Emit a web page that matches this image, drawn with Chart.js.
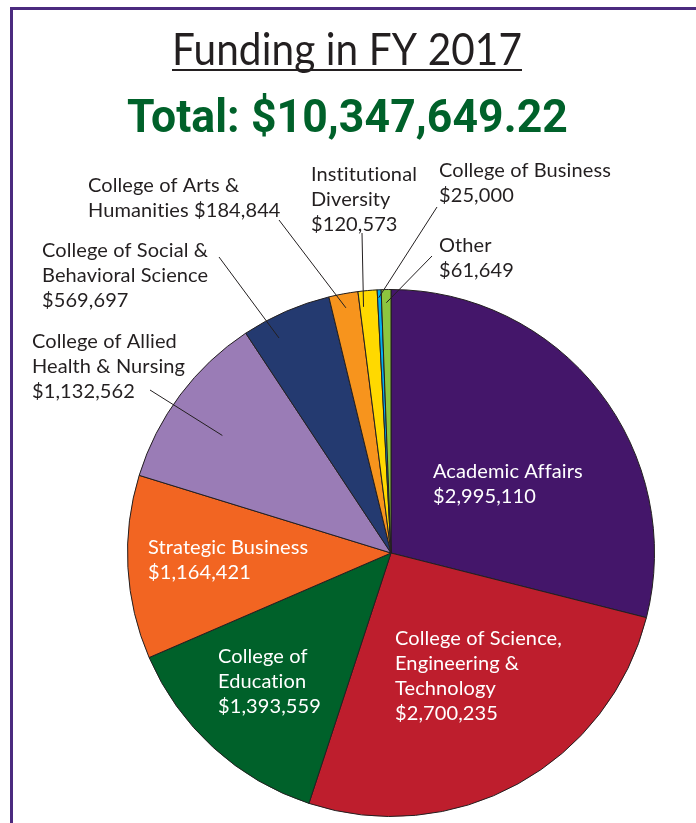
<!DOCTYPE html>
<html><head><meta charset="utf-8">
<script src="https://cdn.jsdelivr.net/npm/chart.js@4.4.1/dist/chart.umd.min.js"></script>
<style>
html,body{margin:0;padding:0;background:#fff;width:696px;height:823px;overflow:hidden;}
#frame{position:absolute;left:10px;top:7px;width:720px;height:900px;border-left:3px solid #4b2a7f;border-top:3px solid #4b2a7f;}
#c{position:absolute;left:0;top:0;}
</style></head><body>
<div id="frame"></div>
<canvas id="c" width="696" height="823"></canvas>
<script>
// ---- data ----
const categories = [
  'Academic Affairs',
  'College of Science,\nEngineering &\nTechnology',
  'College of\nEducation',
  'Strategic Business',
  'College of Allied\nHealth & Nursing',
  'College of Social &\nBehavioral Science',
  'College of Arts &\nHumanities',
  'Institutional\nDiversity',
  'College of Business',
  'Other'
];
const values = [2995110, 2700235, 1393559, 1164421, 1132562, 569697, 184844, 120573, 25000, 61649];
const colors = ['#44166a', '#be1e2d', '#00612a', '#f26522', '#9a7cb6', '#243a70', '#f7941d', '#ffd900', '#00aeef', '#8dc63f'];
const titleText = 'Funding in FY 2017';
const totalText = 'Total: $10,347,649.22';

// ---- label layout (positions of texts, leader lines) ----
const labelLayout = [
  {x:433, y:478, color:'#fff'},
  {x:395, y:645, color:'#fff'},
  {x:218, y:663, color:'#fff'},
  {x:148, y:554, color:'#fff'},
  {x:32,  y:348, color:'#231f20', from:[150,390], r:0.78, t:0.45},
  {x:42,  y:257, color:'#231f20', from:[219,257], r:0.92, t:0.3},
  {x:88,  y:192, color:'#231f20', from:[279,220], r:0.946, t:0.5, inline:true},
  {x:311, y:181, color:'#231f20', from:[362,233], r:0.94, t:0.2},
  {x:439, y:177, color:'#231f20', from:[437,207], r:0.97, t:0.3},
  {x:439, y:252, color:'#231f20', from:[432,256], r:0.95, t:0.5}
];

function fmt(v){ return '$' + v.toLocaleString('en-US'); }

const labelPlugin = {
  id: 'labelPlugin',
  afterDraw(chart){
    const ctx = chart.ctx;
    const meta = chart.getDatasetMeta(0);
    ctx.save();
    try { ctx.letterSpacing = '0.1px'; } catch(e) {}
    // title
    ctx.fillStyle = '#231f20';
    ctx.font = '400 44px Lato';
    ctx.textBaseline = 'alphabetic';
    ctx.textAlign = 'left';
    let w = ctx.measureText(titleText).width;
    ctx.save(); ctx.translate(172, 65); ctx.scale(350 / w, 1); ctx.fillText(titleText, 0, 0); ctx.restore();
    ctx.fillRect(172, 69, 350, 2);
    // total
    ctx.fillStyle = '#00612a';
    ctx.font = '700 46px Roboto';
    w = ctx.measureText(totalText).width;
    ctx.save(); ctx.translate(127, 132); ctx.scale(441 / w, 1); ctx.fillText(totalText, 0, 0); ctx.restore();

    // labels
    ctx.font = '400 20px Lato';
    meta.data.forEach((arc, i) => {
      const L = labelLayout[i];
      const lines = categories[i].split('\n');
      if (L.inline) lines[lines.length - 1] += ' ' + fmt(values[i]);
      else lines.push(fmt(values[i]));
      ctx.fillStyle = L.color;
      lines.forEach((t, k) => ctx.fillText(t, L.x, L.y + k * 25));
      if (L.from) {
        const p = arc.getProps(['x','y','startAngle','endAngle','outerRadius'], true);
        const a = p.startAngle + (p.endAngle - p.startAngle) * L.t;
        const ex = p.x + Math.cos(a) * p.outerRadius * L.r;
        const ey = p.y + Math.sin(a) * p.outerRadius * L.r;
        ctx.strokeStyle = '#231f20';
        ctx.lineWidth = 1;
        ctx.beginPath();
        ctx.moveTo(L.from[0], L.from[1]);
        ctx.lineTo(ex, ey);
        ctx.stroke();
      }
    });
    ctx.restore();
  }
};

new Chart(document.getElementById('c'), {
  type: 'pie',
  data: {
    labels: categories.map(c => c.replace(/\n/g, ' ')),
    datasets: [{
      data: values,
      backgroundColor: colors,
      borderColor: '#231f20',
      borderWidth: 1
    }]
  },
  options: {
    responsive: false,
    animation: false,
    devicePixelRatio: 1,
    layout: {padding: {left:127, right:41, top:289, bottom:6}},
    plugins: {legend: {display:false}, tooltip: {enabled:false}, title: {display:false}}
  },
  plugins: [labelPlugin]
});
</script>
</body></html>
